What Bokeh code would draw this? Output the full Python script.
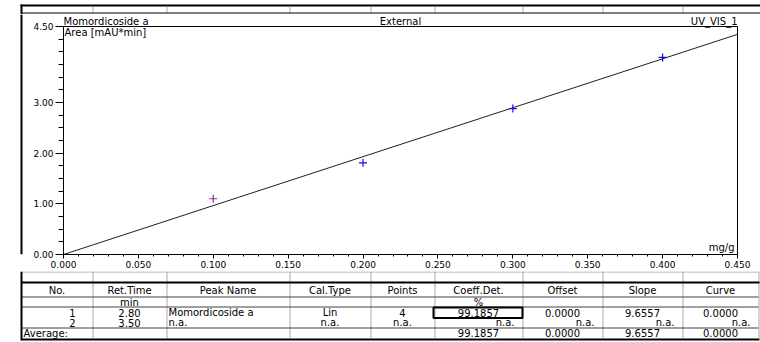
from bokeh.plotting import figure
from bokeh.layouts import column, row
from bokeh.models import Range1d, FixedTicker
from bokeh.core.properties import value
from bokeh.embed import file_html
from bokeh.resources import INLINE

# ---------------- chart data ----------------
conc_mg_g = [0.100, 0.200, 0.300, 0.400]
area_mau_min = [1.10, 1.81, 2.88, 3.89]
fit_x = [0.000, 0.450]
fit_y = [0.000, 4.345]

x_ticks = [0.000, 0.050, 0.100, 0.150, 0.200, 0.250, 0.300, 0.350, 0.400, 0.450]
x_tick_labels = ["0.000", "0.050", "0.100", "0.150", "0.200",
                 "0.250", "0.300", "0.350", "0.400", "0.450"]
y_ticks = [0.00, 1.00, 2.00, 3.00, 4.50]
y_tick_labels = ["0.00", "1.00", "2.00", "3.00", "4.50"]

title_left = "Momordicoside a"
title_mid = "External"
title_right = "UV_VIS_1"
y_unit_label = "Area  [mAU*min]"
x_unit_label = "mg/g"

# ---------------- table data ----------------
col_headers = ["No.", "Ret.Time", "Peak Name", "Cal.Type", "Points",
               "Coeff.Det.", "Offset", "Slope", "Curve"]
col_units = ["", "min", "", "", "", "%", "", "", ""]
row_1 = ["1", "2.80", "Momordicoside a", "Lin", "4",
         "99.1857", "0.0000", "9.6557", "0.0000"]
row_2 = ["2", "3.50", "n.a.", "n.a.", "n.a.", "n.a.", "n.a.", "n.a.", "n.a."]
row_avg = ["Average:", "", "", "", "", "99.1857", "0.0000", "9.6557", "0.0000"]

FONT = "DejaVu Sans"
FS_AX = "9px"
FS_TX = "10px"
GRAY = "#a8a8a8"

# column edges of the report grid (page pixels)
E = [21, 92, 166, 289, 370, 434, 522, 602, 682, 758]

X_MAX = x_ticks[-1]
Y_MAX = y_ticks[-1]
FRAME_L, FRAME_R, FRAME_T, FRAME_B = 63, 737, 26, 254   # plot box in page px
CH_TOP, CH_BOT = 14, 271                                # chart canvas rows


def blank(w, h, x0, x1, ytop, ybot):
    f = figure(width=w, height=h, x_range=Range1d(x0, x1), y_range=Range1d(ybot, ytop),
               output_backend="svg", toolbar_location=None, min_border=0,
               x_axis_location=None, y_axis_location=None)
    f.outline_line_color = None
    f.grid.visible = False
    f.background_fill_color = "white"
    f.border_fill_color = "white"
    return f


def txt(f, xs, ys, texts, align, size=FS_TX, baseline="middle"):
    if not texts:
        return
    f.text(x=xs, y=ys, text=texts, text_align=align, text_baseline=baseline,
           text_font=value(FONT), text_font_size=value(size), text_color="black")


# ---------------- header strip (page y 0..14) ----------------
top = blank(760, CH_TOP, 0, 760, 0, CH_TOP)
top.segment(x0=[20], y0=[5], x1=[760], y1=[5], line_color="black", line_width=2)
top.segment(x0=[21], y0=[4], x1=[21], y1=[CH_TOP], line_color="black", line_width=2)
xd = [e + 0.5 for e in E[1:-1]]
top.segment(x0=xd, y0=[6] * len(xd), x1=xd, y1=[12.5] * len(xd),
            line_color=GRAY, line_width=1)
top.segment(x0=[21], y0=[12.5], x1=[760], y1=[12.5], line_color="black", line_width=1)

# ---------------- left border strip ----------------
SW = 26
strip = blank(SW, CH_BOT - CH_TOP, 0, SW, CH_TOP, CH_BOT)
strip.segment(x0=[21], y0=[CH_TOP], x1=[21], y1=[CH_BOT], line_color="black", line_width=2)

# ---------------- chart ----------------
px_x = (FRAME_R - FRAME_L) / X_MAX
px_y = (FRAME_B - FRAME_T) / Y_MAX
x_end = X_MAX + (760 - FRAME_R) / px_x
y_end = Y_MAX + (FRAME_T - CH_TOP) / px_y

p = figure(width=760 - SW, height=CH_BOT - CH_TOP,
           x_range=Range1d(0, x_end), y_range=Range1d(0, y_end),
           output_backend="svg", toolbar_location=None,
           min_border_left=FRAME_L - SW, min_border_right=0, min_border_top=0,
           min_border_bottom=CH_BOT - FRAME_B)
p.grid.visible = False
p.background_fill_color = "white"
p.border_fill_color = "white"
p.outline_line_color = None

p.xaxis.ticker = FixedTicker(ticks=x_ticks, minor_ticks=[i / 100 for i in range(46)])
p.xaxis.major_label_overrides = dict(zip(x_ticks, x_tick_labels))
p.yaxis.ticker = FixedTicker(ticks=y_ticks, minor_ticks=[i / 4 for i in range(19)])
p.yaxis.major_label_overrides = dict(zip(y_ticks, y_tick_labels))
p.xaxis.bounds = (0, X_MAX)
p.yaxis.bounds = (0, Y_MAX)

for ax in (p.xaxis, p.yaxis):
    ax.axis_line_color = "black"
    ax.major_tick_line_color = "black"
    ax.minor_tick_line_color = "black"
    ax.major_tick_in = 0
    ax.minor_tick_in = 0
    ax.major_label_text_font = FONT
    ax.major_label_text_font_size = FS_AX
    ax.major_label_text_color = "black"
    ax.major_label_standoff = 2
p.xaxis.major_tick_out = 4
p.xaxis.minor_tick_out = 2
p.yaxis.major_tick_out = 8
p.yaxis.minor_tick_out = 5

# plot box: top and right edges
p.segment(x0=[0, X_MAX], y0=[Y_MAX, 0], x1=[X_MAX, X_MAX], y1=[Y_MAX, Y_MAX],
          line_color="black", line_width=1)

p.line(fit_x, fit_y, line_color="#202020", line_width=1)
pt_colors = ["#a0209a"] + ["#1010e8"] * (len(conc_mg_g) - 1)
p.scatter(conc_mg_g, area_mau_min, marker="cross", size=8, line_width=1.2,
          line_color=pt_colors)

txt(p, [0], [Y_MAX], [title_left], "left", baseline="bottom")
txt(p, [X_MAX / 2], [Y_MAX], [title_mid], "center", baseline="bottom")
txt(p, [X_MAX], [Y_MAX], [title_right], "right", baseline="bottom")
p.text(x=[0], y=[Y_MAX], text=[y_unit_label], text_align="left", text_baseline="top",
       x_offset=1, text_font=value(FONT), text_font_size=value(FS_TX), text_color="black")
p.text(x=[X_MAX], y=[0], text=[x_unit_label], text_align="right", text_baseline="bottom",
       x_offset=-3, y_offset=-2, text_font=value(FONT), text_font_size=value(FS_TX),
       text_color="black")

# ---------------- table (page y 271..342) ----------------
t = blank(760, 342 - CH_BOT, 0, 760, CH_BOT, 342)
y_hdr, y_unit, y_r1, y_r2, y_avg = 290, 301.5, 312, 322, 332.5
x_l = [e + 0.5 for e in E[1:]]
t.segment(x0=x_l, y0=[271] * 9, x1=x_l, y1=[338] * 9, line_color=GRAY, line_width=1)
t.segment(x0=[21] * 4, y0=[271.5, 296.5, 306.5, 327.5], x1=[758] * 4,
          y1=[271.5, 296.5, 306.5, 327.5],
          line_color=[GRAY, "#404040", "#404040", "#404040"], line_width=1)
t.segment(x0=[21, 21], y0=[282, 339], x1=[759, 759], y1=[282, 339],
          line_color="black", line_width=2)
t.segment(x0=[21], y0=[271], x1=[21], y1=[340], line_color="black", line_width=2)
t.quad(left=[433], right=[522], top=[307], bottom=[317.5], fill_color=None,
       line_color="black", line_width=2)

centers = [(E[i] + E[i + 1]) / 2 for i in range(9)]
cx, cy, ct = [], [], []
lx, ly, lt = [], [], []
rx, ry, rt = [], [], []
for i in range(9):
    cx.append(centers[i]); cy.append(y_hdr); ct.append(col_headers[i])
    if col_units[i]:
        cx.append(centers[i]); cy.append(y_unit); ct.append(col_units[i])
for i, v in enumerate(row_1):
    if i == 0:
        rx.append(E[1] - 17); ry.append(y_r1); rt.append(v)
    elif i == 2:
        lx.append(E[2] + 2); ly.append(y_r1); lt.append(v)
    else:
        cx.append(centers[i]); cy.append(y_r1); ct.append(v)
for i, v in enumerate(row_2):
    if i == 0:
        rx.append(E[1] - 17); ry.append(y_r2); rt.append(v)
    elif i == 2:
        lx.append(E[2] + 2); ly.append(y_r2); lt.append(v)
    elif i in (1, 3, 4):
        cx.append(centers[i]); cy.append(y_r2); ct.append(v)
    else:
        rx.append(E[i + 1] - 8); ry.append(y_r2); rt.append(v)
for i, v in enumerate(row_avg):
    if not v:
        continue
    if i == 0:
        lx.append(E[0] + 2); ly.append(y_avg); lt.append(v)
    else:
        cx.append(centers[i]); cy.append(y_avg); ct.append(v)
txt(t, cx, cy, ct, "center")
txt(t, lx, ly, lt, "left")
txt(t, rx, ry, rt, "right")

layout = column(top, row(strip, p, spacing=0), t, spacing=0)

open("out.html", "w").write(file_html(layout, INLINE))
